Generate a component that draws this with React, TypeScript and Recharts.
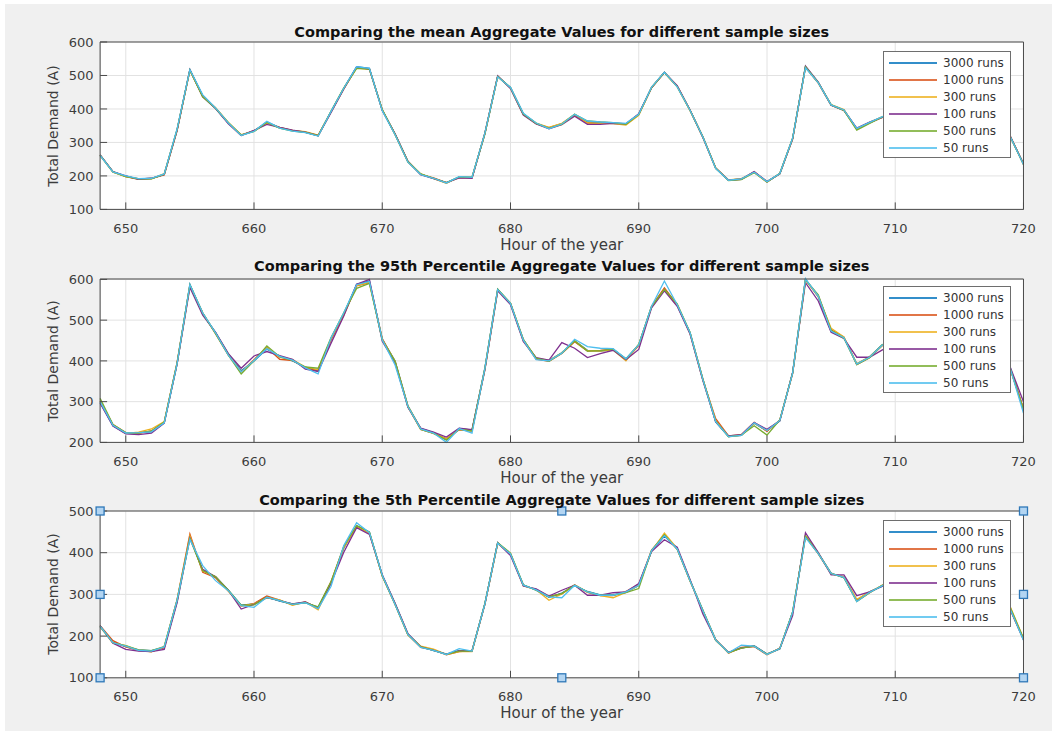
import React from 'react';
import { LineChart, Line, XAxis, YAxis, CartesianGrid, Legend, ReferenceDot } from 'recharts';

// ---------- categories / ticks ----------
const hours = [
  648, 649, 650, 651, 652, 653, 654, 655, 656, 657,
  658, 659, 660, 661, 662, 663, 664, 665, 666, 667,
  668, 669, 670, 671, 672, 673, 674, 675, 676, 677,
  678, 679, 680, 681, 682, 683, 684, 685, 686, 687,
  688, 689, 690, 691, 692, 693, 694, 695, 696, 697,
  698, 699, 700, 701, 702, 703, 704, 705, 706, 707,
  708, 709, 710, 711, 712, 713, 714, 715, 716, 717,
  718, 719, 720,
];
const xTicks = [650, 660, 670, 680, 690, 700, 710, 720];
const meanTicks = [100, 200, 300, 400, 500, 600];
const p95Ticks = [200, 300, 400, 500, 600];
const p5Ticks = [100, 200, 300, 400, 500];

const seriesKeys = ['s3000', 's1000', 's300', 's100', 's500', 's50'];
const seriesNames = ['3000 runs', '1000 runs', '300 runs', '100 runs', '500 runs', '50 runs'];
const seriesColors = ['#0072BD', '#D95319', '#EDB120', '#7E2F8E', '#77AC30', '#4DBEEE'];

const titles = [
  'Comparing the mean Aggregate Values for different sample sizes',
  'Comparing the 95th Percentile Aggregate Values for different sample sizes',
  'Comparing the 5th Percentile Aggregate Values for different sample sizes',
];
const xLabel = 'Hour of the year';
const yLabel = 'Total Demand (A)';

// ---------- mean ----------
const mean3000 = [
  262, 212, 199, 191, 192, 205, 337, 517, 440, 402,
  358, 322, 334, 361, 344, 335, 330, 320, 392, 462,
  526, 521, 397, 324, 242, 205, 193, 179, 197, 195,
  325, 497, 464, 386, 357, 343, 355, 383, 361, 360,
  358, 355, 384, 464, 510, 467, 396, 316, 223, 187,
  191, 211, 182, 207, 312, 526, 479, 412, 397, 341,
  359, 376, 385, 390, 398, 405, 420, 478, 505, 468,
  400, 315, 235,
];
const mean1000 = [
  262, 213, 198, 190, 193, 203, 335, 515, 438, 403,
  357, 321, 335, 359, 345, 336, 331, 321, 390, 460,
  524, 520, 396, 325, 243, 204, 194, 180, 195, 194,
  327, 498, 462, 383, 356, 344, 356, 381, 358, 358,
  357, 354, 383, 463, 509, 468, 397, 317, 224, 188,
  190, 212, 183, 206, 310, 524, 477, 411, 396, 340,
  358, 375, 384, 389, 397, 404, 419, 477, 504, 467,
  399, 316, 236,
];
const mean300 = [
  261, 211, 198, 192, 191, 207, 338, 516, 437, 404,
  360, 323, 333, 358, 343, 336, 332, 322, 391, 461,
  522, 518, 398, 323, 241, 206, 192, 178, 196, 196,
  326, 496, 463, 385, 358, 345, 357, 384, 358, 357,
  356, 352, 381, 465, 509, 466, 395, 315, 222, 188,
  192, 210, 181, 208, 313, 525, 478, 413, 398, 340,
  360, 377, 386, 391, 399, 406, 421, 479, 506, 469,
  401, 314, 234,
];
const mean100 = [
  263, 213, 200, 190, 193, 204, 336, 518, 436, 401,
  356, 321, 336, 354, 345, 337, 331, 320, 389, 460,
  525, 519, 396, 326, 244, 204, 192, 180, 194, 193,
  328, 499, 461, 382, 355, 341, 353, 378, 354, 354,
  357, 356, 386, 464, 509, 470, 397, 315, 223, 187,
  190, 213, 183, 206, 311, 528, 480, 411, 396, 343,
  361, 375, 384, 389, 397, 404, 419, 477, 504, 467,
  399, 316, 236,
];
const mean500 = [
  262, 212, 198, 191, 191, 205, 338, 516, 436, 402,
  359, 322, 333, 360, 343, 334, 330, 320, 393, 463,
  521, 519, 398, 324, 243, 206, 193, 180, 197, 196,
  326, 497, 464, 385, 357, 342, 354, 384, 364, 361,
  359, 354, 383, 464, 509, 467, 396, 317, 224, 186,
  189, 210, 182, 207, 312, 526, 479, 412, 396, 337,
  357, 376, 385, 390, 398, 405, 420, 478, 505, 468,
  400, 315, 235,
];
const mean50 = [
  261, 212, 200, 192, 193, 206, 340, 517, 442, 403,
  358, 321, 333, 363, 343, 334, 329, 319, 392, 462,
  526, 521, 395, 323, 241, 204, 193, 179, 198, 196,
  328, 496, 464, 387, 358, 341, 355, 384, 364, 361,
  359, 357, 384, 465, 510, 466, 396, 316, 222, 187,
  191, 211, 183, 207, 313, 523, 478, 412, 397, 342,
  360, 377, 385, 390, 398, 405, 420, 478, 505, 468,
  400, 315, 234,
];

// ---------- 95th percentile ----------
const p95_3000 = [
  298, 241, 222, 224, 226, 248, 392, 588, 515, 470,
  417, 376, 400, 429, 412, 400, 385, 375, 452, 515,
  588, 596, 453, 400, 290, 234, 224, 206, 234, 230,
  382, 576, 540, 453, 405, 401, 420, 449, 426, 424,
  428, 405, 440, 532, 577, 536, 470, 356, 250, 214,
  217, 247, 228, 253, 372, 601, 557, 472, 456, 393,
  410, 440, 445, 440, 445, 450, 470, 540, 580, 540,
  472, 380, 282,
];
const p95_1000 = [
  302, 244, 224, 222, 228, 250, 396, 584, 518, 467,
  414, 373, 403, 433, 404, 401, 383, 377, 452, 512,
  584, 592, 455, 397, 287, 232, 222, 209, 231, 228,
  378, 573, 542, 449, 404, 399, 418, 447, 424, 426,
  429, 402, 438, 534, 579, 538, 467, 353, 258, 216,
  219, 249, 227, 255, 369, 599, 560, 476, 458, 391,
  408, 438, 444, 439, 444, 449, 469, 539, 579, 539,
  469, 377, 283,
];
const p95_300 = [
  301, 242, 222, 225, 233, 251, 393, 585, 516, 469,
  416, 373, 401, 432, 410, 403, 385, 378, 454, 516,
  585, 593, 452, 399, 289, 234, 222, 208, 232, 230,
  381, 574, 541, 452, 407, 401, 420, 449, 425, 424,
  427, 400, 441, 532, 575, 536, 469, 355, 253, 215,
  217, 247, 229, 254, 371, 599, 558, 480, 459, 393,
  410, 438, 446, 441, 446, 451, 471, 541, 581, 541,
  471, 377, 281,
];
const p95_100 = [
  296, 240, 221, 219, 223, 247, 392, 580, 512, 470,
  418, 382, 412, 423, 413, 404, 380, 374, 443, 510,
  588, 600, 448, 396, 286, 235, 225, 213, 235, 231,
  378, 572, 538, 448, 408, 402, 445, 431, 408, 418,
  426, 403, 428, 530, 572, 534, 466, 352, 250, 216,
  219, 249, 232, 253, 371, 592, 547, 470, 455, 409,
  409, 427, 440, 438, 444, 450, 468, 538, 578, 538,
  468, 382, 300,
];
const p95_500 = [
  308, 244, 224, 223, 228, 250, 395, 587, 518, 467,
  414, 368, 400, 437, 410, 401, 385, 382, 457, 518,
  578, 590, 452, 399, 289, 232, 222, 206, 232, 228,
  381, 576, 542, 452, 407, 399, 419, 449, 424, 425,
  429, 405, 440, 534, 575, 540, 470, 355, 252, 214,
  218, 241, 218, 255, 370, 599, 562, 475, 456, 391,
  408, 440, 446, 441, 446, 451, 471, 541, 581, 541,
  471, 378, 280,
];
const p95_50 = [
  300, 242, 223, 224, 226, 248, 393, 587, 518, 469,
  414, 373, 401, 430, 411, 402, 383, 368, 456, 518,
  587, 595, 452, 390, 288, 233, 223, 200, 234, 223,
  381, 575, 541, 451, 403, 400, 419, 453, 435, 431,
  430, 405, 440, 534, 596, 538, 469, 354, 251, 214,
  217, 248, 229, 254, 370, 601, 559, 473, 457, 392,
  409, 439, 445, 440, 445, 450, 470, 540, 580, 540,
  470, 378, 272,
];

// ---------- 5th percentile ----------
const p5_3000 = [
  222, 185, 175, 167, 165, 173, 283, 438, 357, 342,
  310, 274, 277, 294, 284, 277, 280, 269, 327, 411,
  465, 449, 346, 278, 205, 175, 165, 157, 165, 165,
  278, 424, 396, 323, 310, 293, 303, 321, 307, 299,
  299, 305, 321, 404, 440, 410, 334, 262, 190, 161,
  171, 177, 157, 169, 258, 441, 399, 351, 340, 286,
  306, 320, 325, 320, 318, 320, 330, 400, 440, 410,
  341, 263, 193,
];
const p5_1000 = [
  225, 189, 174, 165, 163, 172, 287, 445, 353, 340,
  308, 272, 278, 296, 286, 275, 282, 267, 330, 414,
  462, 447, 344, 276, 203, 173, 167, 155, 163, 165,
  276, 422, 398, 321, 312, 295, 301, 323, 305, 297,
  297, 307, 324, 406, 442, 408, 332, 260, 192, 159,
  173, 175, 155, 171, 256, 439, 397, 349, 342, 284,
  304, 322, 324, 319, 317, 319, 329, 399, 439, 409,
  339, 261, 191,
];
const p5_300 = [
  223, 183, 177, 166, 162, 175, 286, 440, 356, 343,
  308, 272, 277, 292, 287, 274, 282, 263, 328, 412,
  463, 447, 345, 277, 204, 176, 169, 156, 163, 163,
  277, 422, 397, 321, 311, 286, 301, 322, 306, 297,
  292, 305, 322, 404, 447, 410, 333, 261, 190, 160,
  172, 176, 156, 170, 257, 441, 399, 350, 342, 288,
  306, 321, 326, 321, 319, 321, 331, 401, 441, 411,
  342, 268, 195,
];
const p5_100 = [
  225, 183, 168, 164, 163, 168, 280, 435, 360, 342,
  310, 265, 276, 292, 285, 277, 282, 267, 326, 401,
  460, 444, 347, 279, 206, 174, 166, 157, 165, 164,
  276, 424, 393, 320, 313, 296, 310, 322, 298, 298,
  304, 306, 326, 403, 431, 413, 336, 253, 191, 161,
  172, 176, 157, 170, 249, 448, 400, 347, 347, 297,
  306, 320, 325, 320, 318, 320, 330, 400, 440, 410,
  340, 262, 192,
];
const p5_500 = [
  224, 184, 177, 167, 165, 175, 286, 434, 357, 342,
  310, 274, 275, 293, 285, 276, 280, 270, 330, 415,
  465, 450, 344, 276, 203, 174, 166, 156, 164, 164,
  278, 424, 399, 323, 310, 294, 302, 322, 306, 298,
  298, 304, 314, 406, 443, 408, 333, 262, 191, 160,
  171, 176, 157, 170, 258, 439, 398, 350, 340, 283,
  304, 322, 326, 321, 319, 321, 331, 401, 441, 411,
  342, 266, 194,
];
const p5_50 = [
  224, 184, 176, 166, 164, 174, 286, 432, 369, 333,
  309, 273, 269, 293, 285, 276, 280, 266, 319, 417,
  472, 448, 346, 276, 204, 173, 166, 156, 170, 164,
  277, 423, 397, 322, 311, 294, 292, 322, 306, 298,
  298, 306, 322, 405, 441, 409, 333, 261, 191, 160,
  178, 176, 156, 170, 257, 436, 398, 350, 341, 283,
  305, 321, 325, 320, 318, 320, 330, 400, 440, 410,
  340, 262, 190,
];

// selection handles visible on the third axes (data coordinates)
const handleHours = [648, 648, 648, 684, 684, 720, 720, 720];
const handleValues = [500, 300, 100, 500, 100, 500, 300, 100];

const buildRows = (arrs: number[][]) =>
  hours.map((h, i) => {
    const row: any = { hour: h };
    seriesKeys.forEach((k, j) => {
      row[k] = arrs[j][i];
    });
    return row;
  });

const meanRows = buildRows([mean3000, mean1000, mean300, mean100, mean500, mean50]);
const p95Rows = buildRows([p95_3000, p95_1000, p95_300, p95_100, p95_500, p95_50]);
const p5Rows = buildRows([p5_3000, p5_1000, p5_300, p5_100, p5_500, p5_50]);

// ---------- layout ----------
const FONT = '"DejaVu Sans", "Liberation Sans", Arial, sans-serif';
const AXIS = '#4a4a4a';
const PLOT_LEFT = 100.1;
const PLOT_RIGHT = 1023.5;
const CHART_W = 1059;
const MARGIN_TOP = 20;
const XAXIS_H = 40;
const YAXIS_W = 60;
const TICK = -7;

const LegendBox = () => (
  <div
    style={{
      boxSizing: 'border-box',
      width: 128,
      height: 107,
      border: '1px solid #6e6e6e',
      background: '#ffffff',
      paddingTop: 3,
    }}
  >
    {seriesNames.map((name, i) => (
      <div key={name} style={{ position: 'relative', height: 17 }}>
        <div
          style={{
            position: 'absolute',
            left: 5,
            top: 7,
            width: 48,
            height: 2,
            background: seriesColors[i],
            opacity: 0.8,
          }}
        />
        <span
          style={{
            position: 'absolute',
            left: 59,
            top: 0,
            fontFamily: FONT,
            fontSize: 12,
            color: '#333',
            lineHeight: '17px',
            whiteSpace: 'nowrap',
          }}
        >
          {name}
        </span>
      </div>
    ))}
  </div>
);

const handleShape = (props: any) => (
  <rect
    x={props.cx - 4}
    y={props.cy - 4}
    width={8}
    height={8}
    fill="#b3d5f2"
    stroke="#2f78b8"
    strokeWidth={1.3}
  />
);

type PanelProps = {
  plotTop: number;
  plotHeight: number;
  rows: any[];
  domain: [number, number];
  yTicks: number[];
  legendPageTop: number;
  withHandles?: boolean;
};

const Panel = ({ plotTop, plotHeight, rows, domain, yTicks, legendPageTop, withHandles }: PanelProps) => {
  const height = MARGIN_TOP + plotHeight + XAXIS_H;
  const chartTop = plotTop - MARGIN_TOP;
  return (
    <div style={{ position: 'absolute', left: 0, top: chartTop }}>
      <LineChart
        width={CHART_W}
        height={height}
        data={rows}
        margin={{ top: MARGIN_TOP - 1, right: CHART_W - PLOT_RIGHT - 1, bottom: 0, left: PLOT_LEFT - YAXIS_W }}
      >
        <CartesianGrid stroke="#e2e2e2" fill="#ffffff" />
        <XAxis
          dataKey="hour"
          type="number"
          domain={[648, 720]}
          ticks={xTicks}
          height={XAXIS_H}
          tickSize={TICK}
          tickMargin={21.3}
          axisLine={{ stroke: AXIS }}
          tickLine={{ stroke: AXIS }}
          tick={{ fill: '#3c3c3c', fontSize: 13, fontFamily: FONT }}
          interval={0}
        />
        <XAxis
          xAxisId="top"
          orientation="top"
          dataKey="hour"
          type="number"
          domain={[648, 720]}
          ticks={xTicks}
          height={1}
          tickSize={TICK}
          axisLine={{ stroke: AXIS }}
          tickLine={{ stroke: AXIS }}
          tick={false}
          interval={0}
        />
        <YAxis
          type="number"
          domain={domain}
          ticks={yTicks}
          width={YAXIS_W}
          tickSize={TICK}
          tickMargin={13.5}
          axisLine={{ stroke: AXIS }}
          tickLine={{ stroke: AXIS }}
          tick={{ fill: '#3c3c3c', fontSize: 13, fontFamily: FONT }}
          interval={0}
        />
        <YAxis
          yAxisId="right"
          orientation="right"
          type="number"
          domain={domain}
          ticks={yTicks}
          width={1}
          tickSize={TICK}
          axisLine={{ stroke: AXIS }}
          tickLine={{ stroke: AXIS }}
          tick={false}
          interval={0}
        />
        {seriesKeys.map((k, i) => (
          <Line
            key={k}
            type="linear"
            dataKey={k}
            name={seriesNames[i]}
            stroke={seriesColors[i]}
            strokeWidth={1.3}
            dot={false}
            activeDot={false}
            isAnimationActive={false}
          />
        ))}
        <Legend
          layout="horizontal"
          verticalAlign="middle"
          align="center"
          wrapperStyle={{ position: 'absolute', left: 883, top: legendPageTop - chartTop, width: 128, height: 107 }}
          content={() => <LegendBox />}
        />
        {withHandles &&
          handleHours.map((h, i) => (
            <ReferenceDot
              key={`h${i}`}
              x={h}
              y={handleValues[i]}
              r={4}
              shape={handleShape}
              ifOverflow="visible"
            />
          ))}
      </LineChart>
    </div>
  );
};

const panels = [
  { plotTop: 42.4, plotHeight: 167.4, legendPageTop: 51 },
  { plotTop: 279.2, plotHeight: 163.4, legendPageTop: 286 },
  { plotTop: 510.6, plotHeight: 166.8, legendPageTop: 520 },
];
const titleBaselines = [36.5, 271, 504.7];

export default function App() {
  const cx = (PLOT_LEFT + PLOT_RIGHT) / 2;
  return (
    <div style={{ position: 'absolute', left: 0, top: 0, width: 1059, height: 733, background: '#ffffff', overflow: 'hidden' }}>
      <div style={{ position: 'absolute', left: 5, top: 4, width: 1047, height: 727, background: '#f0f0f0' }} />
      <Panel {...panels[0]} rows={meanRows} domain={[100, 600]} yTicks={meanTicks} />
      <Panel {...panels[1]} rows={p95Rows} domain={[200, 600]} yTicks={p95Ticks} />
      <Panel {...panels[2]} rows={p5Rows} domain={[100, 500]} yTicks={p5Ticks} withHandles />
      <svg
        width={1059}
        height={733}
        style={{ position: 'absolute', left: 0, top: 0, pointerEvents: 'none' }}
      >
        {panels.map((p, i) => {
          const bottom = p.plotTop + p.plotHeight;
          const cy = p.plotTop + p.plotHeight / 2;
          return (
            <g key={i} fontFamily={FONT}>
              <text x={cx} y={titleBaselines[i]} textAnchor="middle" fontSize={14.5} fontWeight="bold" fill="#111">
                {titles[i]}
              </text>
              <text x={cx} y={bottom + 40.5} textAnchor="middle" fontSize={15} fill="#3c3c3c">
                {xLabel}
              </text>
              <text transform={`translate(58, ${cy}) rotate(-90)`} textAnchor="middle" fontSize={14} fill="#3c3c3c">
                {yLabel}
              </text>
            </g>
          );
        })}
      </svg>
    </div>
  );
}
